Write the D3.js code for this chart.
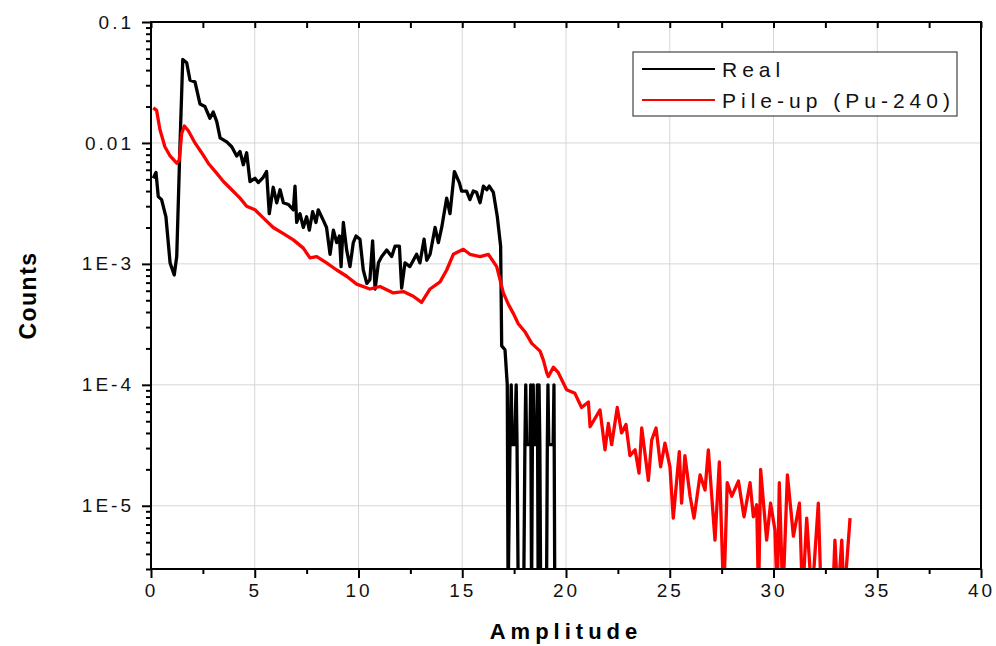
<!DOCTYPE html>
<html>
<head>
<meta charset="utf-8">
<script src="https://cdn.jsdelivr.net/npm/d3@7"></script>
<style>
body{margin:0;background:#fff;overflow:hidden;}
text{font-family:"Liberation Sans",Arial,sans-serif;}
</style>
</head>
<body>
<div id="container"></div>
<script>
// Real spectrum (amplitude, counts); 0 = empty channel, falls below the axis
const realAmp=[0.11,0.24,0.35,0.51,0.72,0.92,1.12,1.24,1.40,1.53,1.72,1.88,2.12,2.36,2.60,2.84,3.00,3.17,3.33,3.65,3.89,4.13,4.29,4.45,4.61,4.77,5.01,5.17,5.41,5.57,5.70,5.89,6.06,6.22,6.38,6.62,6.86,6.94,7.02,7.18,7.34,7.50,7.63,7.79,7.95,8.06,8.30,8.46,8.63,8.79,8.95,9.08,9.16,9.27,9.43,9.59,9.75,9.88,10.07,10.23,10.40,10.55,10.68,10.80,10.96,11.12,11.36,11.60,11.76,11.97,12.08,12.24,12.48,12.80,12.96,13.16,13.29,13.45,13.69,13.85,14.01,14.25,14.41,14.62,14.86,14.97,15.21,15.37,15.53,15.69,15.86,16.02,16.18,16.30,16.50,16.69,16.85,16.90,17.06,17.17,
  17.21,17.30,17.36,17.40,17.52,17.60,17.64,17.70,17.96,18.02,18.06,18.10,18.26,18.30,18.34,18.38,18.42,18.46,18.58,18.62,18.66,18.70,18.74,18.78,19.06,19.10,19.13,19.17,19.38,19.42,19.46,19.60];
const realCounts=[5.1e-3,5.7e-3,3.6e-3,3.4e-3,2.45e-3,1.02e-3,8.1e-4,1.15e-3,1.0e-2,4.9e-2,4.6e-2,3.3e-2,3.2e-2,2.1e-2,2.0e-2,1.6e-2,1.8e-2,1.5e-2,1.1e-2,1.02e-2,9.3e-3,7.8e-3,8.5e-3,6.6e-3,8.3e-3,4.8e-3,5.1e-3,4.7e-3,5.2e-3,5.8e-3,2.6e-3,4.3e-3,3.2e-3,4.1e-3,3.2e-3,3.1e-3,2.8e-3,4.4e-3,2.2e-3,2.6e-3,2.0e-3,2.45e-3,1.9e-3,2.7e-3,2.2e-3,2.8e-3,2.3e-3,2.0e-3,1.2e-3,1.9e-3,1.5e-3,1.7e-3,9.5e-4,2.2e-3,1.3e-3,9.5e-4,1.5e-3,1.7e-3,1.6e-3,8.9e-4,6.9e-4,7.4e-4,1.55e-3,6.2e-4,1.02e-3,1.15e-3,1.3e-3,1.15e-3,1.4e-3,1.4e-3,6.3e-4,1.02e-3,9.5e-4,1.2e-3,1.02e-3,1.6e-3,1.07e-3,1.2e-3,2.0e-3,1.5e-3,2.0e-3,3.5e-3,2.6e-3,5.8e-3,4.7e-3,4.0e-3,4.0e-3,3.4e-3,4.0e-3,3.9e-3,3.2e-3,4.4e-3,4.1e-3,4.4e-3,3.9e-3,2.45e-3,1.4e-3,2.1e-4,1.95e-4,1.0e-4,
  0,3.2e-5,1e-4,3.2e-5,3.2e-5,1e-4,3.2e-5,0,0,3.2e-5,1e-4,3.2e-5,3.2e-5,1e-4,0,3.2e-5,1e-4,3.2e-5,3.2e-5,1e-4,0,1e-4,3.2e-5,0,0,3.2e-5,1e-4,3.2e-5,3.2e-5,1e-4,0,0];

// Pile-up (Pu-240) spectrum
const pileAmp=[0.11,0.27,0.43,0.67,0.92,1.24,1.36,1.48,1.61,1.80,2.12,2.44,2.76,3.17,3.49,3.89,4.29,4.61,5.01,5.41,5.89,6.38,6.86,7.34,7.66,7.99,8.46,8.95,9.43,9.91,10.55,11.04,11.68,12.16,12.64,13.04,13.45,13.93,14.25,14.57,15.05,15.37,15.86,16.26,16.66,16.98,17.23,17.46,17.70,18.02,18.35,18.75,18.91,19.07,19.15,19.39,19.63,20.03,20.43,20.75,21.08,21.16,21.64,21.88,22.04,22.20,22.47,22.68,22.89,23.08,23.33,23.52,23.65,23.97,24.13,24.34,24.56,24.77,25.01,25.17,25.46,25.57,25.73,25.98,26.17,26.46,26.70,26.86,27.18,27.39,27.60,27.77,27.99,28.31,28.58,28.87,29.03,29.19,29.28,29.38,29.67,29.86,30.07,30.18,30.28,30.45,30.67,30.96,31.25,31.40,31.60,31.85,32.16,32.30,32.85,32.96,33.10,33.29,33.40,33.69];
const pileCounts=[1.95e-2,1.86e-2,1.29e-2,9.3e-3,7.8e-3,6.8e-3,7.2e-3,1.2e-2,1.38e-2,1.26e-2,1.0e-2,8.3e-3,6.8e-3,5.6e-3,4.8e-3,4.1e-3,3.5e-3,3.0e-3,2.8e-3,2.4e-3,2.0e-3,1.78e-3,1.58e-3,1.35e-3,1.12e-3,1.15e-3,1.02e-3,8.9e-4,7.9e-4,6.8e-4,6.2e-4,6.5e-4,5.75e-4,5.9e-4,5.4e-4,4.8e-4,6.2e-4,7.1e-4,8.9e-4,1.2e-3,1.32e-3,1.2e-3,1.15e-3,1.2e-3,9.5e-4,5.75e-4,4.6e-4,3.9e-4,3.2e-4,2.75e-4,2.2e-4,1.9e-4,1.6e-4,1.26e-4,1.17e-4,1.4e-4,1.26e-4,9.1e-5,8.5e-5,6.5e-5,7.2e-5,4.5e-5,6.2e-5,2.9e-5,4.8e-5,3.2e-5,6.5e-5,4.0e-5,4.7e-5,2.6e-5,2.9e-5,1.86e-5,4.4e-5,1.62e-5,3.5e-5,4.4e-5,2.1e-5,3.3e-5,2.1e-5,7.9e-6,2.8e-5,1.05e-5,2.6e-5,1.2e-5,7.9e-6,1.8e-5,1.35e-5,2.9e-5,5.2e-6,2.3e-5,0,1.55e-5,1.2e-5,1.6e-5,8.1e-6,1.55e-5,8.1e-6,1.02e-5,0,2.0e-5,5.2e-6,1.05e-5,6.3e-6,0,1.55e-5,0,1.8e-5,5.6e-6,1.05e-5,0,7.9e-6,0,1.05e-5,0,0,5.2e-6,0,5.2e-6,0,7.9e-6];

const xMajorTicks=[0,5,10,15,20,25,30,35,40];
const xMinorTicks=[2.5,7.5,12.5,17.5,22.5,27.5,32.5,37.5];
const yMajorTicks=[0.1,0.01,1e-3,1e-4,1e-5];
const yTickLabels=["0.1","0.01","1E-3","1E-4","1E-5"];
const seriesNames=["Real","Pile-up (Pu-240)"];
const seriesColors=["#000000","#ff0000"];

const w=996, h=646;
const margin={top:22, left:151, right:15, bottom:77};
const graphWidth=w-margin.left-margin.right;
const graphHeight=h-margin.top-margin.bottom;

const svg=d3.select("#container").append("svg").attr("width",w).attr("height",h).style("display","block");
const graph=svg.append("g").attr("transform",`translate(${margin.left},${margin.top})`);

const xScale=d3.scaleLinear().domain([0,40]).range([0,graphWidth]);
const yScale=d3.scaleLog().domain([3e-6,0.1]).range([graphHeight,0]);

// minor log ticks 2..9 per decade
const yMinorTicks=[];
for(let e=-6;e<=-2;e++){
  for(let k=2;k<=9;k++){
    const v=k*Math.pow(10,e);
    if(v>=3e-6 && v<0.1) yMinorTicks.push(v);
  }
}

// grid
graph.append("g").selectAll("line").data(xMajorTicks.slice(1,-1)).enter().append("line")
  .attr("x1",d=>xScale(d)).attr("x2",d=>xScale(d)).attr("y1",0).attr("y2",graphHeight)
  .attr("stroke","#d6d6d6").attr("stroke-width",1);
graph.append("g").selectAll("line").data(yMajorTicks.slice(1)).enter().append("line")
  .attr("x1",0).attr("x2",graphWidth).attr("y1",d=>yScale(d)).attr("y2",d=>yScale(d))
  .attr("stroke","#d6d6d6").attr("stroke-width",1);

// curves
svg.append("defs").append("clipPath").attr("id","clip").append("rect")
  .attr("width",graphWidth).attr("height",graphHeight);

const line=d3.line()
  .x(d=>xScale(d[0]))
  .y(d=>d[1]>0 ? yScale(d[1]) : graphHeight+30);

const realData=realAmp.map((a,i)=>[a,realCounts[i]]);
const pileData=pileAmp.map((a,i)=>[a,pileCounts[i]]);

const plot=graph.append("g").attr("clip-path","url(#clip)");
plot.append("path").datum(realData).attr("d",line)
  .attr("fill","none").attr("stroke",seriesColors[0]).attr("stroke-width",3.3).attr("stroke-linejoin","round");
plot.append("path").datum(pileData).attr("d",line)
  .attr("fill","none").attr("stroke",seriesColors[1]).attr("stroke-width",3.3).attr("stroke-linejoin","round");

// axes
const xAxis=d3.axisBottom(xScale).tickValues(xMajorTicks).tickSize(9).tickPadding(6).tickFormat(d3.format("d"));
const xMinor=d3.axisBottom(xScale).tickValues(xMinorTicks).tickSize(5).tickFormat("");
const xTop=d3.axisTop(xScale).tickValues(xMajorTicks.concat(xMinorTicks)).tickSize(-6).tickFormat("");
const yAxis=d3.axisLeft(yScale).tickValues(yMajorTicks).tickSize(9).tickPadding(8).tickFormat((d,i)=>yTickLabels[i]);
const yMinor=d3.axisLeft(yScale).tickValues(yMinorTicks).tickSize(5).tickFormat("");

const axes=[
  graph.append("g").attr("transform",`translate(0,${graphHeight})`).call(xAxis),
  graph.append("g").attr("transform",`translate(0,${graphHeight})`).call(xMinor),
  graph.append("g").call(xTop),
  graph.append("g").call(yAxis),
  graph.append("g").call(yMinor)
];
axes.forEach(g=>{
  g.select(".domain").remove();
  g.selectAll(".tick line").attr("stroke","#000").attr("stroke-width",2);
  g.selectAll("text").attr("font-size",19).attr("fill","#111")
    .style("font-family","'Liberation Sans',Arial,sans-serif").style("letter-spacing","3px");
});

// frame
graph.append("rect").attr("width",graphWidth).attr("height",graphHeight)
  .attr("fill","none").attr("stroke","#000").attr("stroke-width",2);

// axis titles
svg.append("text")
  .attr("transform","rotate(-90)")
  .attr("x",-(margin.top+graphHeight/2)).attr("y",36)
  .attr("text-anchor","middle").attr("font-size",23).attr("font-weight","bold")
  .style("letter-spacing","1.5px")
  .text("Counts");

svg.append("text")
  .attr("x",margin.left+graphWidth/2).attr("y",639)
  .attr("text-anchor","middle").attr("font-size",22).attr("font-weight","bold")
  .style("letter-spacing","5px")
  .text("Amplitude");

// legend
const legend=svg.append("g").attr("id","legend");
legend.append("rect").attr("x",633).attr("y",52).attr("width",324).attr("height",64)
  .attr("fill","#fff").attr("stroke","#444").attr("stroke-width",1.2);
seriesNames.forEach((name,i)=>{
  const ly=69+i*31;
  legend.append("line").attr("x1",642).attr("x2",715).attr("y1",ly).attr("y2",ly)
    .attr("stroke",seriesColors[i]).attr("stroke-width",2);
  legend.append("text").attr("x",722).attr("y",ly+8)
    .attr("font-size",21).style("letter-spacing","5px").attr("fill","#111")
    .text(name);
});
</script>
</body>
</html>
